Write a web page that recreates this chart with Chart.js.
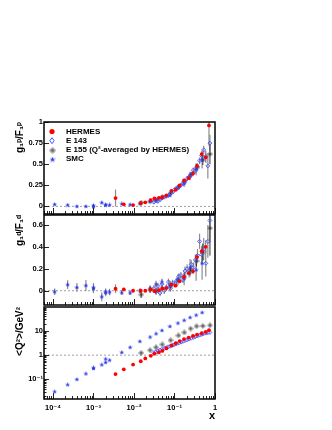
<!DOCTYPE html>
<html>
<head>
<meta charset="utf-8">
<title>g1/F1 world data</title>
<script src="https://cdn.jsdelivr.net/npm/chart.js@4.4.1/dist/chart.umd.min.js"></script>
<style>
  html, body { margin: 0; padding: 0; background: #fff; }
  #page { position: relative; width: 332px; height: 430px; overflow: hidden; }
  #page canvas { position: absolute; left: 0; }
</style>
</head>
<body>
<div id="page">
  <canvas id="chartP" width="332" height="220" style="top:0px"></canvas>
  <canvas id="chartD" width="332" height="100" style="top:210px"></canvas>
  <canvas id="chartQ" width="332" height="130" style="top:300px"></canvas>
</div>
<script>
// ---- axes ----
const xTicks = [1e-4, 1e-3, 1e-2, 1e-1, 1];
const xTickLabels = ['10⁻⁴', '10⁻³', '10⁻²', '10⁻¹', '1'];
const pTicks = [0, 0.25, 0.5, 0.75, 1];
const dTicks = [0, 0.2, 0.4, 0.6];
const qTicks = [0.1, 1, 10];
const qTickLabels = ['10⁻¹', '1', '10'];
const legendLabels = ['HERMES', 'E 143', 'E 155 (Q²-averaged by HERMES)', 'SMC'];

// ---- HERMES ----
const hermesX    = [0.0035, 0.0056, 0.0095, 0.0147, 0.019, 0.026, 0.032, 0.041, 0.050, 0.063, 0.084, 0.107, 0.134, 0.172, 0.224, 0.286, 0.36, 0.47, 0.59, 0.71];
const hermesP    = [0.099, 0.025, 0.016, 0.038, 0.048, 0.075, 0.096, 0.10, 0.11, 0.13, 0.185, 0.197, 0.25, 0.307, 0.335, 0.39, 0.48, 0.62, 0.58, 0.96];
const hermesPErr = [0.10, 0.01, 0.01, 0.01, 0.01, 0.01, 0.01, 0.01, 0.01, 0.012, 0.015, 0.015, 0.015, 0.02, 0.02, 0.025, 0.03, 0.04, 0.06, 0.24];
const hermesD    = [0.018, 0.012, 0.0, 0.0, 0.0, 0.013, -0.004, 0.005, 0.02, 0.024, 0.056, 0.047, 0.086, 0.124, 0.16, 0.177, 0.307, 0.36, 0.40, null];
const hermesDErr = [0.04, 0.015, 0.01, 0.01, 0.01, 0.01, 0.01, 0.01, 0.01, 0.012, 0.012, 0.012, 0.015, 0.02, 0.02, 0.025, 0.03, 0.04, 0.06, 0];
const hermesQ2   = [0.165, 0.26, 0.41, 0.56, 0.73, 0.94, 1.15, 1.3, 1.5, 1.9, 2.5, 3.1, 3.8, 4.6, 5.3, 6.2, 7.0, 8.0, 9.2, 10.7];

// ---- E143 ----
const e143X    = [0.031, 0.035, 0.039, 0.044, 0.049, 0.056, 0.063, 0.071, 0.079, 0.090, 0.101, 0.113, 0.128, 0.144, 0.162, 0.182, 0.205, 0.230, 0.259, 0.292, 0.328, 0.370, 0.416, 0.468, 0.526, 0.592, 0.666, 0.749];
const e143P    = [0.05, 0.07, 0.06, 0.08, 0.10, 0.11, 0.12, 0.13, 0.15, 0.17, 0.20, 0.21, 0.23, 0.25, 0.27, 0.30, 0.33, 0.35, 0.38, 0.43, 0.42, 0.47, 0.54, 0.60, 0.67, 0.59, 0.48, 0.75];
const e143PErr = [0.02, 0.02, 0.02, 0.02, 0.02, 0.02, 0.02, 0.02, 0.02, 0.02, 0.02, 0.02, 0.02, 0.02, 0.02, 0.02, 0.03, 0.03, 0.03, 0.03, 0.03, 0.04, 0.04, 0.05, 0.05, 0.07, 0.15, 0.10];
const e143D    = [0.02, -0.01, 0.04, -0.02, 0.06, 0.0, 0.03, 0.08, 0.02, 0.07, 0.06, 0.09, 0.13, 0.14, 0.10, 0.18, 0.20, 0.16, 0.24, 0.21, 0.28, 0.32, 0.45, 0.33, 0.38, 0.25, 0.45, 0.64];
const e143DErr = [0.03, 0.03, 0.03, 0.03, 0.03, 0.03, 0.03, 0.03, 0.03, 0.03, 0.03, 0.03, 0.03, 0.03, 0.03, 0.04, 0.04, 0.04, 0.04, 0.05, 0.05, 0.06, 0.07, 0.08, 0.10, 0.12, 0.15, 0.20];
const e143Q2   = [1.27, 1.38, 1.5, 1.62, 1.75, 1.9, 2.05, 2.2, 2.35, 2.55, 2.75, 2.95, 3.2, 3.45, 3.7, 4.0, 4.3, 4.6, 5.0, 5.4, 5.8, 6.2, 6.7, 7.2, 7.7, 8.1, 8.4, 8.7];

// ---- E155 (Q2-averaged by HERMES) ----
const e155X    = [0.015, 0.025, 0.035, 0.05, 0.08, 0.125, 0.175, 0.25, 0.35, 0.5, 0.75];
const e155P    = [0.045, 0.06, 0.08, 0.11, 0.16, 0.23, 0.29, 0.37, 0.46, 0.55, 0.62];
const e155PErr = [0.01, 0.01, 0.01, 0.01, 0.015, 0.015, 0.02, 0.03, 0.04, 0.06, 0.12];
const e155D    = [-0.035, 0.01, 0.0, 0.02, 0.04, 0.10, 0.13, 0.19, 0.27, 0.35, 0.57];
const e155DErr = [0.03, 0.03, 0.02, 0.02, 0.02, 0.02, 0.03, 0.04, 0.05, 0.08, 0.25];
const e155Q2   = [1.24, 1.6, 2.1, 2.75, 4.1, 6.5, 8.6, 12.5, 15.6, 16, 17];

// ---- SMC ----
const smcX    = [0.00011, 0.00023, 0.00039, 0.00065, 0.001, 0.001, 0.0016, 0.002, 0.002, 0.0025, 0.005, 0.008, 0.014, 0.025, 0.035, 0.049, 0.077, 0.122, 0.173, 0.242, 0.342, 0.48];
const smcP    = [0.024, 0.016, 0.0, 0.0, 0.01, -0.005, 0.044, 0.02, 0.015, 0.017, 0.03, 0.02, 0.03, 0.06, 0.07, 0.10, 0.13, 0.22, 0.27, 0.36, 0.44, 0.55];
const smcPErr = [0.01, 0.01, 0.01, 0.01, 0.02, 0.02, 0.01, 0.01, 0.01, 0.01, 0.01, 0.01, 0.01, 0.02, 0.02, 0.02, 0.02, 0.03, 0.04, 0.05, 0.07, 0.10];
const smcD    = [-0.01, 0.055, 0.03, 0.047, 0.03, 0.018, -0.055, -0.01, -0.02, -0.012, -0.018, -0.02, 0.0, 0.02, 0.06, 0.08, 0.05, 0.10, 0.11, 0.21, 0.19, 0.25];
const smcDErr = [0.03, 0.04, 0.04, 0.05, 0.04, 0.04, 0.04, 0.03, 0.03, 0.03, 0.02, 0.02, 0.02, 0.03, 0.03, 0.03, 0.04, 0.05, 0.06, 0.08, 0.10, 0.15];
const smcQ2   = [0.031, 0.06, 0.1, 0.17, 0.28, 0.3, 0.4, 0.5, 0.69, 0.62, 1.3, 2.1, 3.7, 5.6, 7.6, 10.4, 15.3, 21, 27.5, 35.6, 45, 57];

// ---- look ----
const FONT = "'Liberation Sans', Arial, 'DejaVu Sans', sans-serif";
const tickFont = { family: FONT, size: 7.5, weight: 'bold' };
const titleFont = { family: FONT, size: 10, weight: 'bold' };
const RED = '#ff0000';
const BLUE = '#4455ff';

function markerCanvas(size, draw) {
  const c = document.createElement('canvas');
  c.width = size; c.height = size;
  draw(c.getContext('2d'), size / 2, size);
  return c;
}

// E155: open grey diamond with a dark cross
const e155Img = markerCanvas(6, (g, c, s) => {
  g.strokeStyle = '#808080'; g.lineWidth = 0.9;
  g.beginPath(); g.moveTo(c, 0.5); g.lineTo(s - 0.5, c); g.lineTo(c, s - 0.5); g.lineTo(0.5, c); g.closePath(); g.stroke();
  g.strokeStyle = '#222';
  g.beginPath(); g.moveTo(c, 1.5); g.lineTo(c, s - 1.5); g.moveTo(1.5, c); g.lineTo(s - 1.5, c); g.stroke();
});

// SMC: small filled star
const smcImg = markerCanvas(5, (g, c) => {
  g.fillStyle = '#2233ee';
  g.beginPath();
  for (let i = 0; i < 10; i++) {
    const r = i % 2 ? 1.0 : 2.5;
    const a = -Math.PI / 2 + i * Math.PI / 5;
    g.lineTo(c + r * Math.cos(a), c + r * Math.sin(a));
  }
  g.closePath(); g.fill();
});

const styles = {
  hermes: { pointStyle: 'circle', pointRadius: 1.9, backgroundColor: RED, borderColor: RED, borderWidth: 0, errColor: '#8c8c8c', errWidth: 1.2 },
  e143:   { pointStyle: 'rectRot', pointRadius: 2, backgroundColor: 'rgba(0,0,0,0)', borderColor: BLUE, borderWidth: 0.9, errColor: '#8c8c8c', errWidth: 1.2 },
  e155:   { pointStyle: e155Img, pointRadius: 3, errColor: '#333', errWidth: 1 },
  smc:    { pointStyle: smcImg, pointRadius: 2.5, errColor: '#8c8c8c', errWidth: 1.2 }
};
const legendKinds = ['hermes', 'e143', 'e155', 'smc'];

function pts(xs, ys) {
  return xs.map((x, i) => ({ x: x, y: ys[i] }));
}

function dataset(kind, xs, ys, errs) {
  return Object.assign({ label: kind, data: pts(xs, ys), errors: errs, showLine: false }, styles[kind]);
}

function drawMarker(ctx, kind, x, y) {
  if (kind === 'hermes') {
    ctx.fillStyle = RED;
    ctx.beginPath(); ctx.arc(x, y, 2.6, 0, Math.PI * 2); ctx.fill();
  } else if (kind === 'e143') {
    ctx.strokeStyle = BLUE; ctx.lineWidth = 1;
    ctx.beginPath(); ctx.moveTo(x, y - 3); ctx.lineTo(x + 2.2, y); ctx.lineTo(x, y + 3); ctx.lineTo(x - 2.2, y); ctx.closePath(); ctx.stroke();
  } else {
    const img = kind === 'e155' ? e155Img : smcImg;
    ctx.drawImage(img, x - img.width / 2, y - img.height / 2, img.width + 1, img.height + 1);
  }
}

// frame, inner ticks, reference line, error bars and legend (ROOT look)
const framePlugin = {
  id: 'frame',
  beforeDatasetsDraw(chart, args, o) {
    const { ctx, chartArea: a, scales: { x, y } } = chart;
    ctx.save();
    ctx.beginPath(); ctx.rect(a.left, a.top, a.width, a.height); ctx.clip();
    const yr = y.getPixelForValue(o.refLine);
    ctx.strokeStyle = '#a0a0a0'; ctx.lineWidth = 1; ctx.setLineDash([2, 2]);
    ctx.beginPath(); ctx.moveTo(a.left, yr); ctx.lineTo(a.right, yr); ctx.stroke();
    ctx.setLineDash([]);
    chart.data.datasets.forEach(ds => {
      if (!ds.errors) return;
      ctx.strokeStyle = ds.errColor; ctx.lineWidth = ds.errWidth;
      ds.data.forEach((p, i) => {
        const e = ds.errors[i];
        if (p.y == null || !e) return;
        const px = x.getPixelForValue(p.x);
        ctx.beginPath();
        ctx.moveTo(px, y.getPixelForValue(p.y - e));
        ctx.lineTo(px, y.getPixelForValue(p.y + e));
        ctx.stroke();
      });
    });
    ctx.restore();
  },
  afterDraw(chart, args, o) {
    const { ctx, chartArea: a, scales: { x, y } } = chart;
    ctx.save();
    ctx.strokeStyle = '#222'; ctx.lineWidth = 1;
    // log x ticks along the bottom edge
    for (let e = -5; e <= 0; e++) {
      for (let k = 1; k <= 9; k++) {
        const v = k * Math.pow(10, e);
        if (v < x.min || v > x.max) continue;
        const px = Math.round(x.getPixelForValue(v)) + 0.5;
        ctx.beginPath(); ctx.moveTo(px, a.bottom); ctx.lineTo(px, a.bottom - (k === 1 ? 6 : 3)); ctx.stroke();
      }
    }
    // y ticks on the left edge
    if (o.logY) {
      for (let e = -2; e <= 2; e++) {
        for (let k = 1; k <= 9; k++) {
          const v = k * Math.pow(10, e);
          if (v < y.min || v > y.max) continue;
          const py = Math.round(y.getPixelForValue(v)) + 0.5;
          ctx.beginPath(); ctx.moveTo(a.left, py); ctx.lineTo(a.left + (k === 1 ? 5 : 2.5), py); ctx.stroke();
        }
      }
    } else {
      o.yTicks.forEach(v => {
        const py = Math.round(y.getPixelForValue(v)) + 0.5;
        ctx.beginPath(); ctx.moveTo(a.left, py); ctx.lineTo(a.left + 5, py); ctx.stroke();
      });
    }
    ctx.strokeStyle = '#000'; ctx.lineWidth = 1.5;
    ctx.strokeRect(a.left, a.top, a.width, a.height);
    if (o.legend) {
      ctx.font = 'bold 8px ' + FONT;
      ctx.textBaseline = 'middle';
      legendLabels.forEach((t, i) => {
        const ly = a.top + 9.5 + i * 9.2;
        drawMarker(ctx, legendKinds[i], a.left + 8, ly);
        ctx.fillStyle = '#000';
        ctx.fillText(t, a.left + 22, ly);
      });
    }
    ctx.restore();
  }
};

function xScale(show) {
  return {
    type: 'logarithmic', min: 6e-5, max: 1, display: show,
    afterBuildTicks: s => { s.ticks = xTicks.map(v => ({ value: v })); },
    afterFit: s => { if (show) { s.height = 31; } s.paddingLeft = 0; s.paddingRight = 0; },
    ticks: { autoSkip: false, maxRotation: 0, padding: 4, color: '#000', font: tickFont,
             callback: (v, i) => xTickLabels[i] },
    grid: { display: false, drawTicks: false },
    border: { display: false },
    title: { display: show, text: 'x', align: 'end', color: '#000',
             font: { family: FONT, size: 11, weight: 'bold' }, padding: { top: 0, bottom: 7 } }
  };
}

function yScale(o) {
  return {
    type: o.type, min: o.min, max: o.max,
    afterBuildTicks: s => { s.ticks = o.ticks.map(v => ({ value: v })); },
    afterFit: s => { s.width = 44; s.paddingTop = 0; s.paddingBottom = 0; },
    ticks: { autoSkip: false, padding: 1, color: '#000', font: tickFont,
             callback: (v, i) => (o.labels ? o.labels[i] : String(v)) },
    grid: { display: false, drawTicks: false },
    border: { display: false },
    title: { display: true, text: o.title, align: 'end', color: '#000', font: titleFont,
             padding: { top: 14, bottom: 0 } }
  };
}

function buildChart(id, datasets, padding, showX, y, frame) {
  return new Chart(document.getElementById(id), {
    type: 'scatter',
    data: { datasets: datasets },
    options: {
      responsive: false,
      animation: false,
      devicePixelRatio: 1,
      events: [],
      layout: { padding: padding },
      plugins: { legend: { display: false }, tooltip: { enabled: false }, frame: frame },
      scales: { x: xScale(showX), y: y }
    },
    plugins: [framePlugin]
  });
}

// proton g1/F1
buildChart('chartP', [
  dataset('hermes', hermesX, hermesP, hermesPErr),
  dataset('e143', e143X, e143P, e143PErr),
  dataset('smc', smcX, smcP, smcPErr),
  dataset('e155', e155X, e155P, e155PErr)
], { left: 0, right: 117, top: 122, bottom: 6 }, false,
  yScale({ type: 'linear', min: -0.09, max: 1.0, ticks: pTicks, title: 'g₁ᵖ/F₁ᵖ' }),
  { refLine: 0, yTicks: pTicks, legend: true });

// deuteron g1/F1
buildChart('chartD', [
  dataset('hermes', hermesX, hermesD, hermesDErr),
  dataset('e143', e143X, e143D, e143DErr),
  dataset('smc', smcX, smcD, smcDErr),
  dataset('e155', e155X, e155D, e155DErr)
], { left: 0, right: 117, top: 4, bottom: 3 }, false,
  yScale({ type: 'linear', min: -0.13, max: 0.69, ticks: dTicks, title: 'g₁ᵈ/F₁ᵈ' }),
  { refLine: 0, yTicks: dTicks, legend: false });

// average Q2
buildChart('chartQ', [
  dataset('hermes', hermesX, hermesQ2, null),
  dataset('e143', e143X, e143Q2, null),
  dataset('smc', smcX, smcQ2, null),
  dataset('e155', e155X, e155Q2, null)
], { left: 0, right: 117, top: 7, bottom: 0 }, true,
  yScale({ type: 'logarithmic', min: 0.0155, max: 97, ticks: qTicks, labels: qTickLabels, title: '<Q²>/GeV²' }),
  { refLine: 1, logY: true, legend: false });
</script>
</body>
</html>
